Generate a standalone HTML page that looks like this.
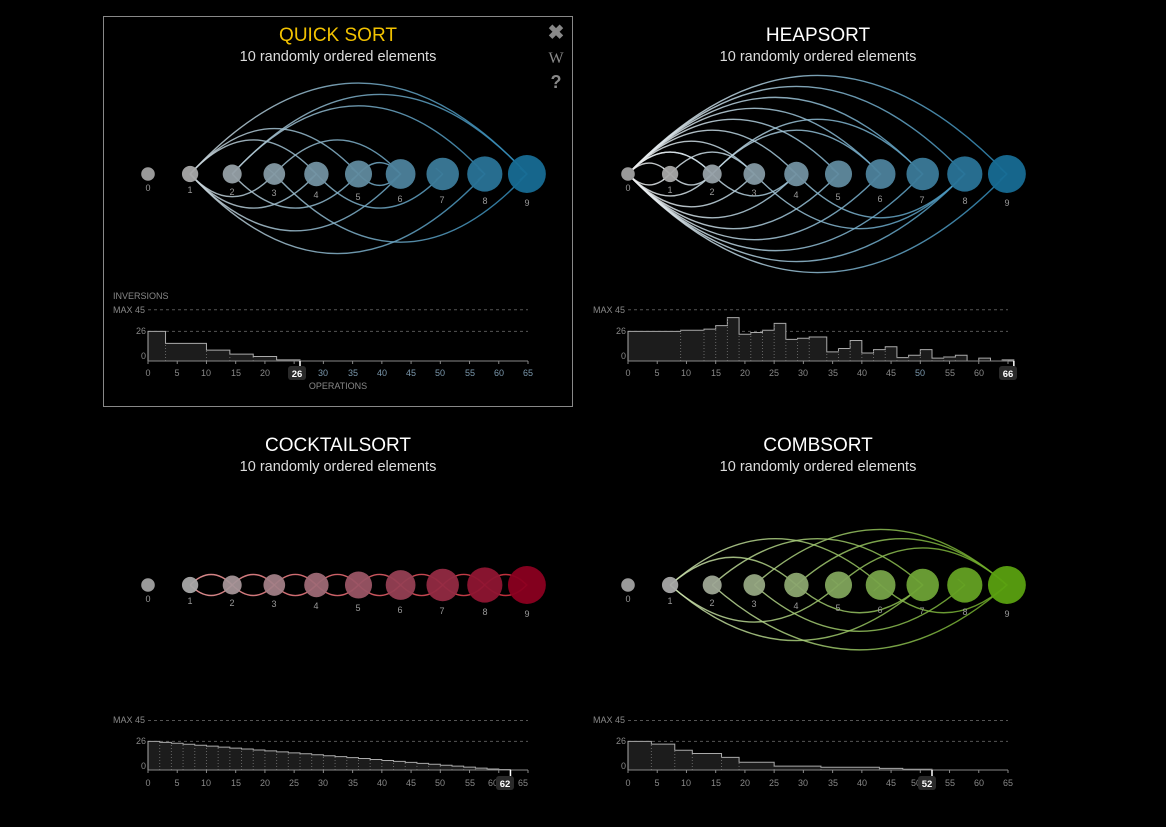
<!DOCTYPE html>
<html><head><meta charset="utf-8"><style>
html,body{margin:0;padding:0;background:#000;width:1166px;height:827px;overflow:hidden}
svg{display:block}
text{font-family:"Liberation Sans",sans-serif}
.t{font-size:19px;fill:#fff;text-anchor:middle}
.s{font-size:14.5px;fill:#ddd;text-anchor:middle}
.n{font-size:9px;fill:#999;text-anchor:middle}
.k{font-size:9px;fill:#888;text-anchor:middle}
.y{font-size:9px;fill:#888;text-anchor:end}
.m{font-size:9.5px;fill:#fff;font-weight:bold;text-anchor:middle}
</style></head><body>
<svg id="s" width="1166" height="827" viewBox="0 0 1166 827">
<defs>
<linearGradient id="gb" gradientUnits="userSpaceOnUse" x1="150" y1="0" x2="530" y2="0"><stop offset="0" stop-color="#e0e0e0"/><stop offset="1" stop-color="#2a86b5"/></linearGradient>
<linearGradient id="gh" gradientUnits="userSpaceOnUse" x1="630" y1="0" x2="1010" y2="0"><stop offset="0" stop-color="#f0f0f0"/><stop offset="1" stop-color="#2a86b5"/></linearGradient>
<linearGradient id="gr" gradientUnits="userSpaceOnUse" x1="150" y1="0" x2="530" y2="0"><stop offset="0" stop-color="#ffb0b0"/><stop offset="1" stop-color="#e03040"/></linearGradient>
<linearGradient id="gg" gradientUnits="userSpaceOnUse" x1="630" y1="0" x2="1010" y2="0"><stop offset="0" stop-color="#d8e8c0"/><stop offset="1" stop-color="#6aaa20"/></linearGradient>
</defs>
<rect x="103.5" y="16.5" width="469" height="390" fill="none" stroke="#888" stroke-width="1"/>
<text x="338" y="41" class="t" style="fill:#f2c200">QUICK SORT</text>
<text x="338" y="61" class="s">10 randomly ordered elements</text>
<text x="818" y="41" class="t">HEAPSORT</text>
<text x="818" y="61" class="s">10 randomly ordered elements</text>
<text x="338" y="451" class="t">COCKTAILSORT</text>
<text x="338" y="471" class="s">10 randomly ordered elements</text>
<text x="818" y="451" class="t">COMBSORT</text>
<text x="818" y="471" class="s">10 randomly ordered elements</text>
<text x="556" y="39" style="font-size:20px;fill:#888;font-weight:bold" text-anchor="middle">✖</text>
<text x="556" y="63" style="font-size:16px;fill:#888;font-family:'Liberation Serif',serif" text-anchor="middle">W</text>
<text x="556" y="88" style="font-size:18px;fill:#888;font-weight:bold" text-anchor="middle">?</text>
<text x="113" y="299" style="font-size:9px;fill:#888">INVERSIONS</text>
<text x="338" y="389" class="k">OPERATIONS</text>
<g id="arcs"></g><g id="nodes"></g><g id="hists"></g>
<g class="lab">
<g transform="translate(0,0)"><text class="n" x="148" y="191">0</text><text class="n" x="190" y="193">1</text><text class="n" x="232" y="195">2</text><text class="n" x="274" y="196">3</text><text class="n" x="316" y="198">4</text><text class="n" x="358" y="200">5</text><text class="n" x="400" y="202">6</text><text class="n" x="442" y="203">7</text><text class="n" x="485" y="204">8</text><text class="n" x="527" y="206">9</text></g>
<g transform="translate(480,0)"><text class="n" x="148" y="191">0</text><text class="n" x="190" y="193">1</text><text class="n" x="232" y="195">2</text><text class="n" x="274" y="196">3</text><text class="n" x="316" y="198">4</text><text class="n" x="358" y="200">5</text><text class="n" x="400" y="202">6</text><text class="n" x="442" y="203">7</text><text class="n" x="485" y="204">8</text><text class="n" x="527" y="206">9</text></g>
<g transform="translate(0,411)"><text class="n" x="148" y="191">0</text><text class="n" x="190" y="193">1</text><text class="n" x="232" y="195">2</text><text class="n" x="274" y="196">3</text><text class="n" x="316" y="198">4</text><text class="n" x="358" y="200">5</text><text class="n" x="400" y="202">6</text><text class="n" x="442" y="203">7</text><text class="n" x="485" y="204">8</text><text class="n" x="527" y="206">9</text></g>
<g transform="translate(480,411)"><text class="n" x="148" y="191">0</text><text class="n" x="190" y="193">1</text><text class="n" x="232" y="195">2</text><text class="n" x="274" y="196">3</text><text class="n" x="316" y="198">4</text><text class="n" x="358" y="200">5</text><text class="n" x="400" y="202">6</text><text class="n" x="442" y="203">7</text><text class="n" x="485" y="204">8</text><text class="n" x="527" y="206">9</text></g>
</g>
<g transform="translate(0,0)"><text class="y" x="145" y="313">MAX 45</text><text class="y" x="146" y="334">26</text><text class="y" x="146" y="359">0</text>
<text class="k" x="148" y="376">0</text><text class="k" x="177" y="376">5</text><text class="k" x="206" y="376">10</text><text class="k" x="236" y="376">15</text><text class="k" x="265" y="376">20</text><text class="k" x="294" y="376">25</text><text class="k" x="323" y="376" style="fill:#7b98ad">30</text><text class="k" x="353" y="376" style="fill:#7b98ad">35</text><text class="k" x="382" y="376" style="fill:#7b98ad">40</text><text class="k" x="411" y="376" style="fill:#7b98ad">45</text><text class="k" x="440" y="376" style="fill:#7b98ad">50</text><text class="k" x="470" y="376" style="fill:#7b98ad">55</text><text class="k" x="499" y="376" style="fill:#7b98ad">60</text><text class="k" x="528" y="376" style="fill:#7b98ad">65</text></g>
<g transform="translate(480,0)"><text class="y" x="145" y="313">MAX 45</text><text class="y" x="146" y="334">26</text><text class="y" x="146" y="359">0</text>
<text class="k" x="148" y="376">0</text><text class="k" x="177" y="376">5</text><text class="k" x="206" y="376">10</text><text class="k" x="236" y="376">15</text><text class="k" x="265" y="376">20</text><text class="k" x="294" y="376">25</text><text class="k" x="323" y="376">30</text><text class="k" x="353" y="376">35</text><text class="k" x="382" y="376">40</text><text class="k" x="411" y="376">45</text><text class="k" x="440" y="376" style="fill:#7b98ad">50</text><text class="k" x="470" y="376">55</text><text class="k" x="499" y="376">60</text><text class="k" x="526" y="376">6</text></g>
<g transform="translate(0,410)"><text class="y" x="145" y="313">MAX 45</text><text class="y" x="146" y="334">26</text><text class="y" x="146" y="359">0</text>
<text class="k" x="148" y="376">0</text><text class="k" x="177" y="376">5</text><text class="k" x="206" y="376">10</text><text class="k" x="236" y="376">15</text><text class="k" x="265" y="376">20</text><text class="k" x="294" y="376">25</text><text class="k" x="323" y="376">30</text><text class="k" x="353" y="376">35</text><text class="k" x="382" y="376">40</text><text class="k" x="411" y="376">45</text><text class="k" x="440" y="376">50</text><text class="k" x="470" y="376">55</text><text class="k" x="493" y="376">60</text><text class="k" x="523" y="376">65</text></g>
<g transform="translate(480,410)"><text class="y" x="145" y="313">MAX 45</text><text class="y" x="146" y="334">26</text><text class="y" x="146" y="359">0</text>
<text class="k" x="148" y="376">0</text><text class="k" x="177" y="376">5</text><text class="k" x="206" y="376">10</text><text class="k" x="236" y="376">15</text><text class="k" x="265" y="376">20</text><text class="k" x="294" y="376">25</text><text class="k" x="323" y="376">30</text><text class="k" x="353" y="376">35</text><text class="k" x="382" y="376">40</text><text class="k" x="411" y="376">45</text><text class="k" x="436" y="376">50</text><text class="k" x="470" y="376">55</text><text class="k" x="499" y="376">60</text><text class="k" x="528" y="376">65</text></g>
<g id="marks"></g>
<g transform="translate(0,0)"><rect x="288" y="366" width="18" height="14" rx="3" fill="#2a2a2a"/><text class="m" x="297" y="377">26</text></g>
<g transform="translate(480,0)"><rect x="519" y="366" width="18" height="14" rx="3" fill="#2a2a2a"/><text class="m" x="528" y="377">66</text></g>
<g transform="translate(0,410)"><rect x="496" y="366" width="18" height="14" rx="3" fill="#2a2a2a"/><text class="m" x="505" y="377">62</text></g>
<g transform="translate(480,410)"><rect x="438" y="366" width="18" height="14" rx="3" fill="#2a2a2a"/><text class="m" x="447" y="377">52</text></g>
</svg>
<script>
var NS="http://www.w3.org/2000/svg";
function el(p,t,a){var e=document.createElementNS(NS,t);for(var k in a)e.setAttribute(k,a[k]);p.appendChild(e);return e;}
var A=document.getElementById('arcs'),N=document.getElementById('nodes'),H=document.getElementById('hists');
function nx(ox,i){return ox+148+i*42.1;}
function hx(c1,c2,t){var a=parseInt(c1.slice(1),16),b=parseInt(c2.slice(1),16);var r=[16,8,0].map(function(s){var u=(a>>s)&255,v=(b>>s)&255;return Math.round(u+(v-u)*t);});return 'rgb('+r.join(',')+')';}
function panel(ox,cy,endc,grad,above,below,hf){
 for(var i=0;i<10;i++){var r=6.8+i*1.35;var c=i==0?'#999':hx('#a8a8a8',endc,(i-1)/8);
  el(N,'circle',{cx:nx(ox,i),cy:cy,r:r,fill:c,'fill-opacity':i==0?1:0.95});}
 function arc(a,b,dir){var x1=nx(ox,a),x2=nx(ox,b),d=x2-x1,h=d*hf*dir;
  el(A,'path',{d:'M'+x1+' '+cy+' Q'+((x1+x2)/2)+' '+(cy-2*h)+' '+x2+' '+cy,fill:'none',stroke:'url(#'+grad+')','stroke-width':1.4,'stroke-opacity':0.85});
  el(A,'path',{d:'M'+(x2-7)+' '+(cy-6)+' L'+x2+' '+cy+' L'+(x2-7)+' '+(cy+6),fill:'none',stroke:'url(#'+grad+')','stroke-width':1.2,'stroke-opacity':0.8});}
 above.forEach(function(p){arc(p[0],p[1],1)});below.forEach(function(p){arc(p[0],p[1],-1)});
}
panel(0,174,'#176b94','gb',[[1,9],[2,9],[1,5],[1,4],[3,6],[2,8],[5,6]],[[1,3],[1,4],[1,6],[1,8],[2,5],[3,9],[5,6],[4,7]],0.27);
var ha=[],hb=[];for(var i=1;i<10;i++){ha.push([0,i]);hb.push([0,i]);}
ha.push([2,6],[2,7],[1,3],[0,2]);hb.push([3,8],[4,8],[1,2],[2,4]);
panel(480,174,'#176b94','gh',ha,hb,0.26);
var ca=[],cb=[];for(var i=1;i<9;i++){ca.push([i,i+1]);cb.push([i,i+1]);}
panel(0,585,'#8a0020','gr',ca,cb,0.25);
panel(480,585,'#5aa010','gg',[[1,6],[2,7],[3,9],[4,9],[1,4],[5,9]],[[1,5],[1,7],[2,9],[3,8],[4,7],[6,9]],0.22);
function hist(ox,ay,sy,segs,end){
 var sx=380/65,x0=ox+148;
 [26,45].forEach(function(v){el(H,'line',{x1:x0,x2:x0+380,y1:ay-v*sy,y2:ay-v*sy,stroke:'#555','stroke-dasharray':'3,3'});});
 var d='M'+x0+' '+ay;segs.forEach(function(s){d+=' L'+(x0+s[0]*sx)+' '+(ay-s[2]*sy)+' L'+(x0+s[1]*sx)+' '+(ay-s[2]*sy);});
 d+=' L'+(x0+end*sx)+' '+ay+' Z';
 el(H,'path',{d:d,fill:'#1c1c1c',stroke:'#aaa','stroke-width':1});
 segs.forEach(function(s,i){if(i>0)el(H,'line',{x1:x0+s[0]*sx,x2:x0+s[0]*sx,y1:ay,y2:ay-s[2]*sy,stroke:'#666','stroke-dasharray':'1,2'});});
 el(H,'line',{x1:x0,x2:x0+380,y1:ay,y2:ay,stroke:'#888'});
 for(var t=0;t<=65;t+=5)el(H,'line',{x1:x0+t*sx,x2:x0+t*sx,y1:ay,y2:ay+3,stroke:'#888'});
 el(H,'line',{x1:x0+end*sx,x2:x0+end*sx,y1:ay,y2:ay+6,stroke:'#fff','stroke-width':1.5});
}
hist(0,361,1.14,[[0,3,26],[3,10,15.5],[10,14,9.5],[14,18,6],[18,22,4],[22,26,1]],26);
var hv=[[0,9,26],[9,13,27],[13,15,28],[15,17,31],[17,19,38],[19,21,23.5],[21,23,25],[23,25,27],[25,27,33],[27,29,19],[29,31,20],[31,34,21],[34,36,8],[36,38,11],[38,40,18],[40,42,7],[42,44,10],[44,46,12.5],[46,48,3],[48,50,5],[50,52,10],[52,54,2.5],[54,56,3.5],[56,58,5],[58,60,0],[60,62,2.5],[62,64,0],[64,66,1]];
hist(480,361,1.14,hv,66);
var cv=[];for(var t=0;t<62;t+=2){cv.push([t,t+2,Math.max(0.4,26-26*t/60)]);}
hist(0,770,1.1,cv,62);
hist(480,770,1.1,[[0,4,26],[4,8,23.5],[8,11,18],[11,16,15],[16,19,11.5],[19,25,7],[25,33,3.5],[33,43,2.5],[43,47,1.5],[47,52,0.7]],52);
</script>
</body></html>
